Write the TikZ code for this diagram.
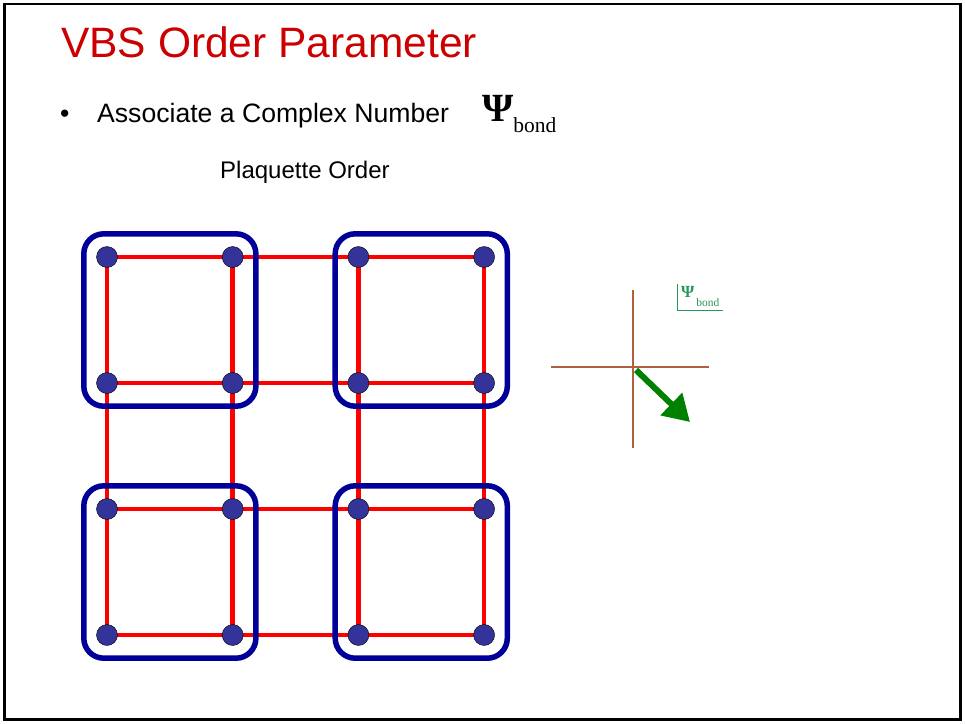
\documentclass[tikz,border=0pt]{standalone}
\usepackage{fontspec}
\setmainfont{Liberation Sans}
\newfontfamily\greekfont{Liberation Serif}
\usetikzlibrary{positioning,arrows.meta,fit,calc}
\definecolor{titlered}{RGB}{204,0,0}
\definecolor{plaqblue}{RGB}{0,0,153}
\definecolor{sitefill}{RGB}{51,51,153}
\definecolor{axisbrown}{RGB}{176,96,64}
\definecolor{arrowgreen}{RGB}{0,128,0}
\definecolor{labelgreen}{RGB}{40,150,90}

\begin{document}
\begin{tikzpicture}[x=1pt,y=-1pt]
\tikzset{site/.style={circle,draw=black,thin,fill=sitefill,minimum size=21pt,inner sep=0pt},
  bond/.style={red,line width=4.5pt},
  plaq/.style={draw=plaqblue,line width=5.5pt,rounded corners=20pt,inner sep=12.5pt},
  axis/.style={axisbrown,line width=1.3pt},
  label/.style={inner sep=0pt,anchor=base west}}
\useasboundingbox (0,0) rectangle (965,723);
\draw[line width=2.5pt] (4.5,4) rectangle (960.5,719.5);

\node[label,text=titlered,font=\fontsize{42.5}{50}\selectfont] (title) at (61,57) {VBS Order Parameter};
\node[label,font=\fontsize{26.6}{32}\selectfont] (bullet) at (60,122) {•};
\node[label,font=\fontsize{26.6}{32}\selectfont] (assoc) at (97,122) {Associate a Complex Number};
\node[label,font=\greekfont\fontsize{40}{44}\selectfont] (psi) at (482,121) {\textbf{Ψ}\raisebox{-11pt}{\fontsize{21.5}{24}\selectfont bond}};
\node[label,font=\fontsize{24}{28}\selectfont] (plaqtitle) at (220,178) {Plaquette Order};

\foreach \i in {0,...,3}
  \foreach \j in {0,...,3}
    \coordinate (p\i\j) at ({107+125.7*\i},{257+126*\j});
\foreach \k in {0,...,3} {
  \draw[bond] (p0\k) -- (p3\k);
  \draw[bond] (p\k0) -- (p\k3);
}
\foreach \i in {0,...,3}
  \foreach \j in {0,...,3}
    \node[site] (s\i\j) at (p\i\j) {};

\node[plaq,fit=(s00)(s11)] (plaq-a) {};
\node[plaq,fit=(s20)(s31)] (plaq-b) {};
\node[plaq,fit=(s02)(s13)] (plaq-c) {};
\node[plaq,fit=(s22)(s33)] (plaq-d) {};

\coordinate (origin) at (633,367);
\coordinate (re-l) at (551,367);
\coordinate (re-r) at (709,367);
\coordinate (im-t) at (633,290);
\coordinate (im-b) at (633,448);
\coordinate (tip) at (690,422);
\draw[axis] (re-l) -- (re-r);
\draw[axis] (im-t) -- (im-b);
\draw[arrowgreen,line width=6pt,-{Triangle[length=26pt,width=30pt]}] ([shift={(3,3)}]origin) -- (tip);

\coordinate (lab-t) at (677,284);
\coordinate (lab-c) at (677,310);
\coordinate (lab-r) at (723,310);
\draw[labelgreen,line width=0.8pt] (lab-t) -- (lab-c) -- (lab-r);
\node[label,text=labelgreen,font=\greekfont\fontsize{17}{18}\selectfont] (psi-small) at (681,297) {\textbf{Ψ}\hspace{2pt}\raisebox{-9pt}{\fontsize{11.5}{12}\selectfont bond}};
\end{tikzpicture}
\end{document}
